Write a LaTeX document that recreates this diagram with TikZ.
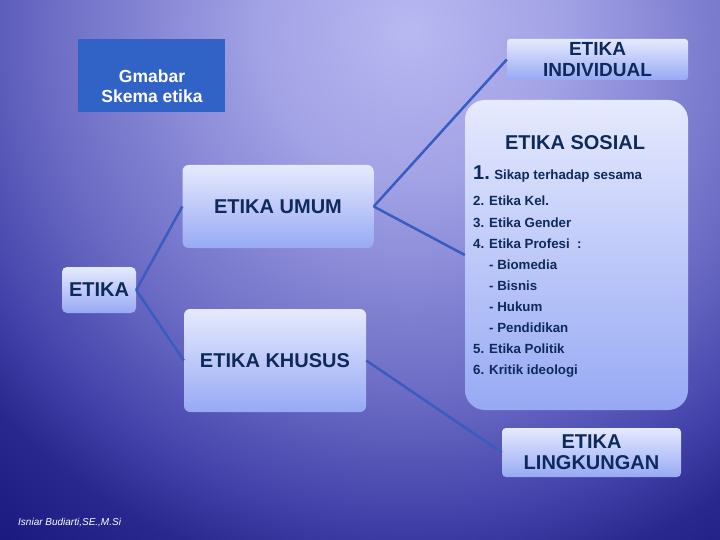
\documentclass[tikz,border=0pt]{standalone}
\usepackage{fontspec}
\setmainfont{Liberation Sans}
\usetikzlibrary{calc}
\definecolor{navy}{HTML}{1A1A80}
\definecolor{glow}{HTML}{B8B8F2}
\definecolor{glowb}{HTML}{A2A2E6}
\definecolor{midbg}{HTML}{6A6AC4}
\definecolor{lowbg}{HTML}{4444AC}
\definecolor{deepbg}{HTML}{28288F}
\definecolor{inkblue}{HTML}{0E2A5C}
\definecolor{linkblue}{HTML}{3A5CC0}
\definecolor{headblue}{HTML}{3162C6}
\definecolor{boxtop}{HTML}{E6EAFE}
\definecolor{boxbot}{HTML}{97A9F4}
\pgfdeclareradialshading{bgglow}{\pgfpoint{0bp}{0bp}}{color(0bp)=(glow);
  color(5.8bp)=(glowb); color(14.2bp)=(midbg); color(18.5bp)=(lowbg);
  color(21.5bp)=(deepbg); color(25bp)=(navy); color(50bp)=(navy)}

\begin{document}
\begin{tikzpicture}[x=1pt, y=-1pt,
  box/.style={rectangle, rounded corners=#1, top color=boxtop, bottom color=boxbot,
    text=inkblue, font=\bfseries\fontsize{20}{21}\selectfont, align=center, inner sep=0pt},
  box/.default=6pt,
  link/.style={draw=linkblue, line width=2.5pt, line join=round},
  item/.style={text=inkblue, font=\bfseries\fontsize{13.3}{15}\selectfont,
    anchor=base west, inner sep=0pt}]
  % background
  \useasboundingbox (0,0) rectangle (720,540);
  \fill[navy] (0,0) rectangle (720,540);
  \begin{scope}
    \clip (0,0) rectangle (720,540);
    \shade[shading=bgglow] (410,30) circle[radius=650];
  \end{scope}
  % title box
  \node[rectangle, fill=headblue, minimum width=147pt, minimum height=73pt] (head) at (151.5,75.5) {};
  \node[text=white, font=\bfseries\fontsize{17.5}{20}\selectfont, align=center] (headtxt) at (152,86.6) {Gmabar\\Skema etika};
  % boxes
  \node[box=3pt, minimum width=181pt, minimum height=41pt,
    font=\bfseries\fontsize{19}{21}\selectfont] (indiv) at (597.5,59.5) {ETIKA\\INDIVIDUAL};
  \node[box=20pt, minimum width=223pt, minimum height=310pt] (sosial) at (576.5,255) {};
  \node[box=6pt, minimum width=191pt, minimum height=83pt] (umum) at (278,206.5) {ETIKA UMUM};
  \node[box=6pt, minimum width=182pt, minimum height=103pt] (khusus) at (275,360.5) {ETIKA KHUSUS};
  \node[box=5pt, minimum width=74pt, minimum height=46pt] (etika) at (99,290) {ETIKA};
  \node[box=4pt, minimum width=179pt, minimum height=49pt] (lingk) at (591.5,452.5) {ETIKA\\LINGKUNGAN};
  % social ethics list
  \node[text=inkblue, font=\bfseries\fontsize{20}{22}\selectfont, anchor=base, inner sep=0pt] (sostitle) at (575,150) {ETIKA SOSIAL};
  \node[item, font=\bfseries\fontsize{20}{22}\selectfont] (num1) at (473,180) {1.};
  \node[item] (item1) at ([xshift=4pt]num1.base east) {Sikap terhadap sesama};
  \foreach \t [count=\i from 2] in {2. Etika Kel., 3. Etika Gender, 4. Etika Profesi~~:,
      \hspace*{16pt}- Biomedia, \hspace*{16pt}- Bisnis, \hspace*{16pt}- Hukum,
      \hspace*{16pt}- Pendidikan, 5. Etika Politik, 6. Kritik ideologi}
    \node[item] (item\i) at (473,{206+21*(\i-2)}) {\t};
  % connectors
  \draw[link] (etika.east) -- (umum.west);
  \draw[link] (etika.east) -- (khusus.west);
  \draw[link] (umum.east) -- (indiv.west);
  \draw[link] (umum.east) -- (sosial.west);
  \draw[link] (khusus.east) -- (lingk.west);
  % author
  \node[text=white, font=\itshape\fontsize{10}{12}\selectfont, anchor=base west, inner sep=0pt] (author) at (18,525) {Isniar Budiarti,SE.,M.Si};
\end{tikzpicture}
\end{document}
